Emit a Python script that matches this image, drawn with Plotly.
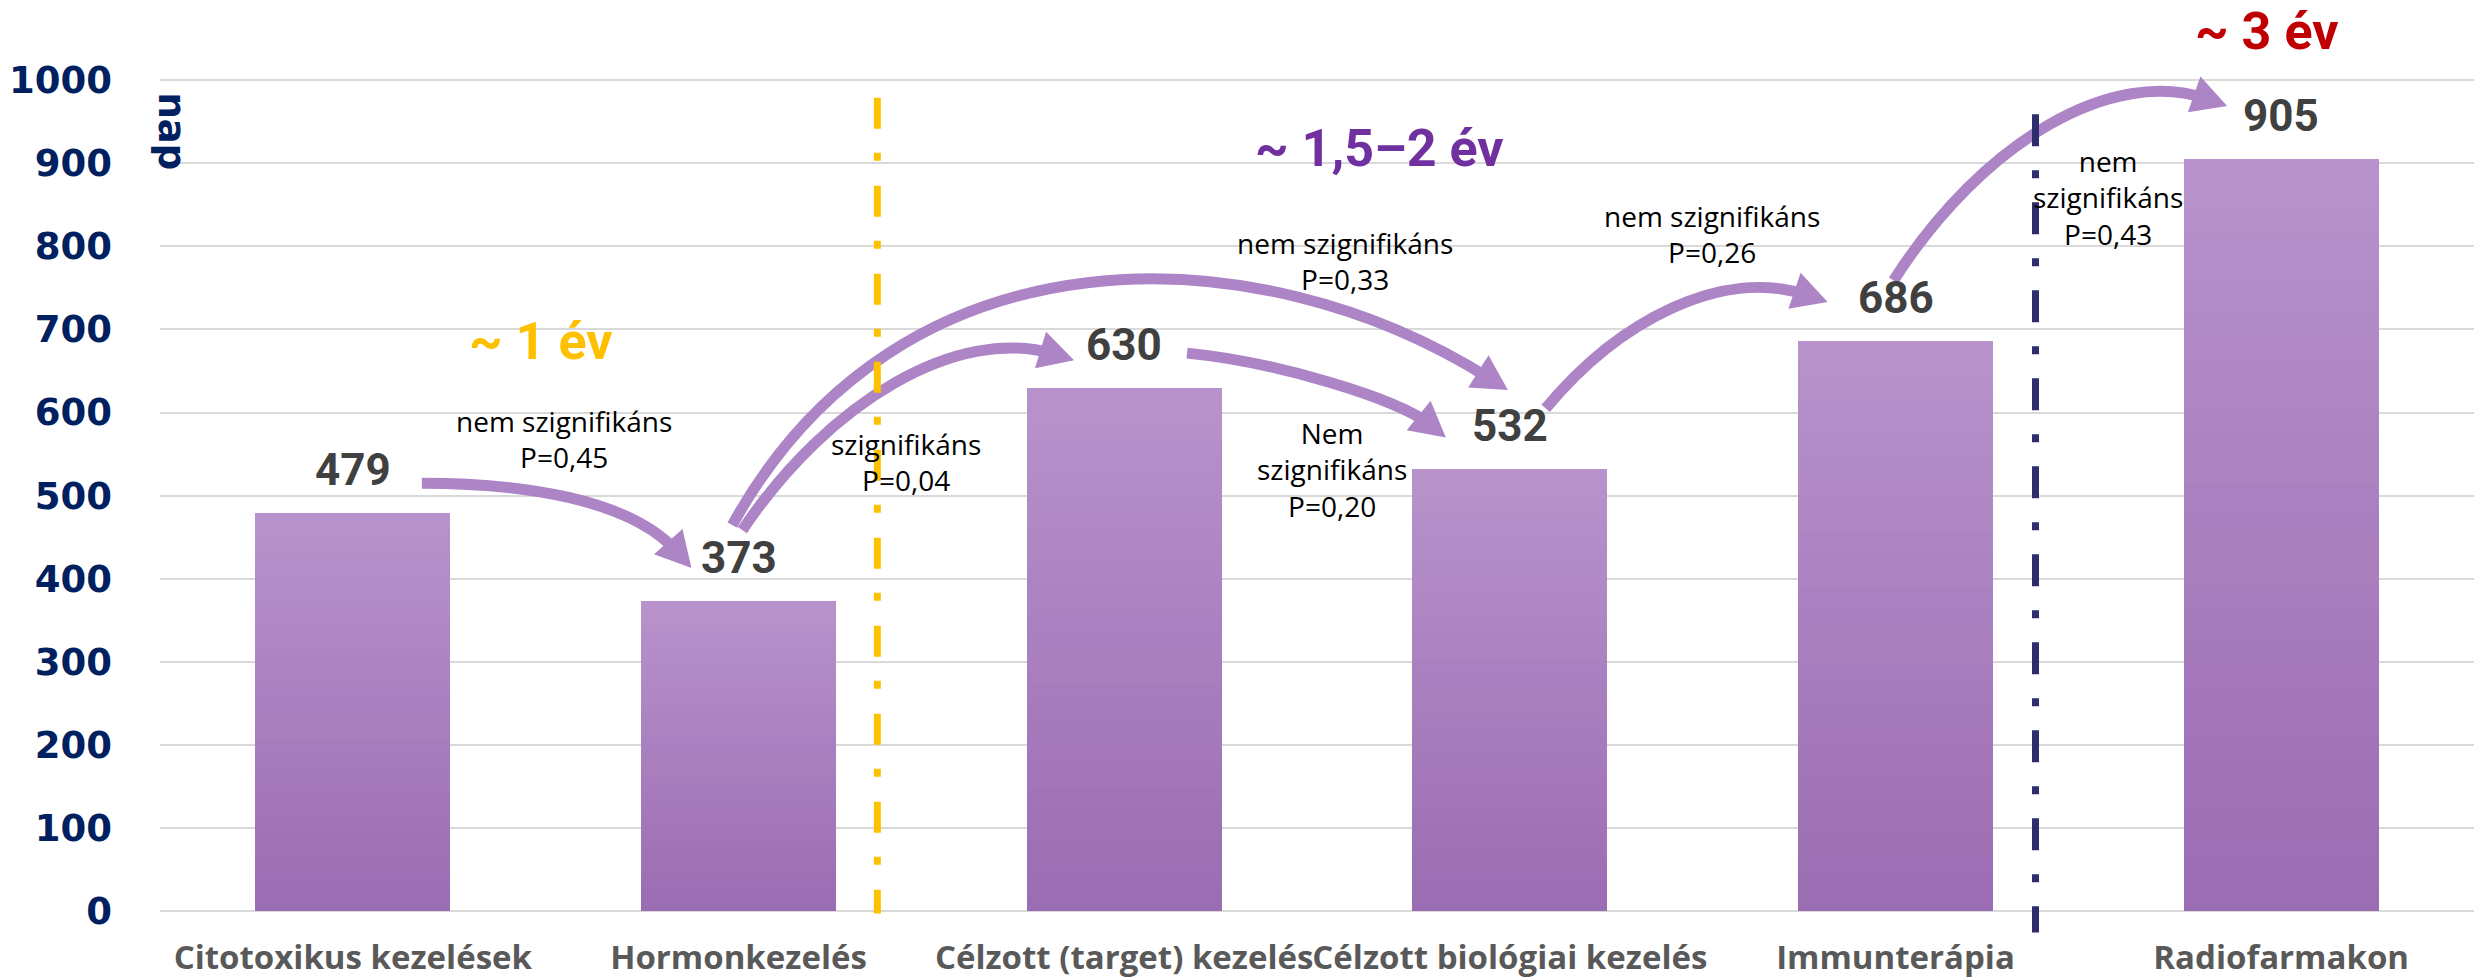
import numpy as np
import plotly.graph_objects as go

# ---------------- data ----------------
categories = ["Citotoxikus kezelések", "Hormonkezelés", "Célzott (target) kezelés",
              "Célzott biológiai kezelés", "Immunterápia", "Radiofarmakon"]
days = [479, 373, 630, 532, 686, 905]
y_ticks = [0, 100, 200, 300, 400, 500, 600, 700, 800, 900, 1000]

# comparison notes: (text, x position, y position in days)
note_texts = ["nem szignifikáns<br>P=0,45", "szignifikáns<br>P=0,04",
              "nem szignifikáns<br>P=0,33", "Nem<br>szignifikáns<br>P=0,20",
              "nem szignifikáns<br>P=0,26", "nem<br>szignifikáns<br>P=0,43"]
note_x = [0.547, 1.435, 2.573, 2.539, 3.523, 4.552]
note_y = [568, 540, 782, 531, 815, 859]

period_texts = ["~ 1 év", "~ 1,5–2 év", "~ 3 év"]
period_colors = ["#FFC000", "#7030A0", "#C00000"]
period_x = [0.487, 2.663, 4.961]
period_y = [685, 918, 1059]

# curved arrows: start, control1, control2, tip (x index, days)
arrows = [
    [(0.179, 515), (0.433, 515), (0.718, 497), (0.878, 413)],
    [(0.984, 464.5), (1.417, 831.5), (2.350, 817), (2.995, 627)],
    [(1.010, 458.5), (1.236, 615), (1.573, 705), (1.870, 663)],
    [(2.163, 671.5), (2.401, 660.6), (2.712, 616), (2.834, 570)],
    [(3.093, 605), (3.282, 711), (3.552, 776), (3.824, 733)],
    [(3.995, 759), (4.228, 928), (4.565, 1017), (4.860, 969)],
]

# ---------------- layout geometry ----------------
W, H = 2479, 980
ML, MR, MT, MB = 160, 5, 47, 69
YMAX = 1040
plot_w = W - ML - MR
plot_h = H - MT - MB
sx = plot_w / 6.0
sy = plot_h / YMAX

BAR_TOP = (0xB7, 0x93, 0xCB)
BAR_BOT = (0x9B, 0x6C, 0xB2)
ARROW_COLOR = "#AD85C6"

fig = go.Figure()

# gradient bars as stacked slices
K = 30
xs = list(range(len(categories)))
for k in range(K):
    t = (k + 0.5) / K
    c = tuple(int(round(BAR_BOT[i] + (BAR_TOP[i] - BAR_BOT[i]) * t)) for i in range(3))
    fig.add_trace(go.Bar(
        x=xs, y=[v / K for v in days],
        marker=dict(color="rgb(%d,%d,%d)" % c, line=dict(width=0)),
        width=0.505, hoverinfo="skip", showlegend=False))

# value labels
for i, v in enumerate(days):
    fig.add_annotation(x=i, y=v, text=str(v), showarrow=False, yshift=43,
                       yanchor="middle",
                       font=dict(family="Roboto", size=44, color="#404040", weight="bold"))

# arrows
shapes = []
HEAD_LEN, HEAD_W, LW = 35, 38, 11
for p0, c1, c2, tip in arrows:
    tpx = np.array([tip[0] * sx, -tip[1] * sy])
    cpx = np.array([c2[0] * sx, -c2[1] * sy])
    d = tpx - cpx
    d = d / np.linalg.norm(d)
    perp = np.array([-d[1], d[0]])
    end = tpx - d * HEAD_LEN * 0.6
    base = tpx - d * HEAD_LEN
    b1 = base + perp * HEAD_W / 2
    b2 = base - perp * HEAD_W / 2

    def dd(p):
        return (p[0] / sx, -p[1] / sy)
    e = dd(end)
    path = "M %f,%f C %f,%f %f,%f %f,%f" % (p0[0], p0[1], c1[0], c1[1], c2[0], c2[1], e[0], e[1])
    shapes.append(dict(type="path", path=path, xref="x", yref="y",
                       line=dict(color=ARROW_COLOR, width=LW), fillcolor="rgba(0,0,0,0)"))
    q1, q2 = dd(b1), dd(b2)
    head = "M %f,%f L %f,%f L %f,%f Z" % (tip[0], tip[1], q1[0], q1[1], q2[0], q2[1])
    shapes.append(dict(type="path", path=head, xref="x", yref="y",
                       line=dict(width=0), fillcolor=ARROW_COLOR))

# vertical separators
def ypaper(v):
    return v / YMAX
shapes.append(dict(type="line", xref="x", yref="paper", x0=1.36, x1=1.36,
                   y0=ypaper(979), y1=ypaper(-3),
                   line=dict(color="#FFC000", width=7, dash="31px,24px,8px,25px")))
shapes.append(dict(type="line", xref="x", yref="paper", x0=4.363, x1=4.363,
                   y0=ypaper(959), y1=ypaper(-26),
                   line=dict(color="#2F2C6C", width=7, dash="32px,24px,8px,24px")))

# notes
for txt, x, y in zip(note_texts, note_x, note_y):
    fig.add_annotation(x=x, y=y, text=txt, showarrow=False, align="center",
                       font=dict(family="Open Sans", size=28, color="#000000"))
# period labels (anchor kept inside the axis range, shifted in pixels above it)
for txt, col, x, y in zip(period_texts, period_colors, period_x, period_y):
    ya = min(y, 1000)
    fig.add_annotation(x=x, y=ya, yshift=(y - ya) * sy, text=txt, showarrow=False,
                       font=dict(family="Roboto", size=52, color=col, weight="bold"))

# y-axis title
fig.add_annotation(xref="paper", x=0, y=939, xshift=-12, text="nap", showarrow=False,
                   textangle=90,
                   font=dict(family="DejaVu Sans", size=37, color="#002060", weight="bold"))

fig.update_layout(
    width=W, height=H, barmode="stack", bargap=0.495,
    margin=dict(l=ML, r=MR, t=MT, b=MB, autoexpand=False),
    plot_bgcolor="white", paper_bgcolor="white",
    shapes=shapes, showlegend=False,
    xaxis=dict(range=[-0.5, 5.5], tickvals=xs, ticktext=categories, tickangle=0,
               showgrid=False, zeroline=False, showline=False, ticks="",
               ticklabelstandoff=24,
               tickfont=dict(family="Open Sans", size=33, color="#595959", weight="bold")),
    yaxis=dict(range=[0, YMAX], tickvals=y_ticks, showgrid=True, gridcolor="#D9D9D9",
               gridwidth=2, zeroline=True, zerolinecolor="#D9D9D9", zerolinewidth=2,
               ticks="", ticklabelstandoff=47,
               tickfont=dict(family="DejaVu Sans", size=37, color="#002060", weight="bold")),
)

fig.write_html("out.html", config={"displayModeBar": False},
               post_script="document.body.style.margin='0px';document.body.style.overflow='hidden';")
